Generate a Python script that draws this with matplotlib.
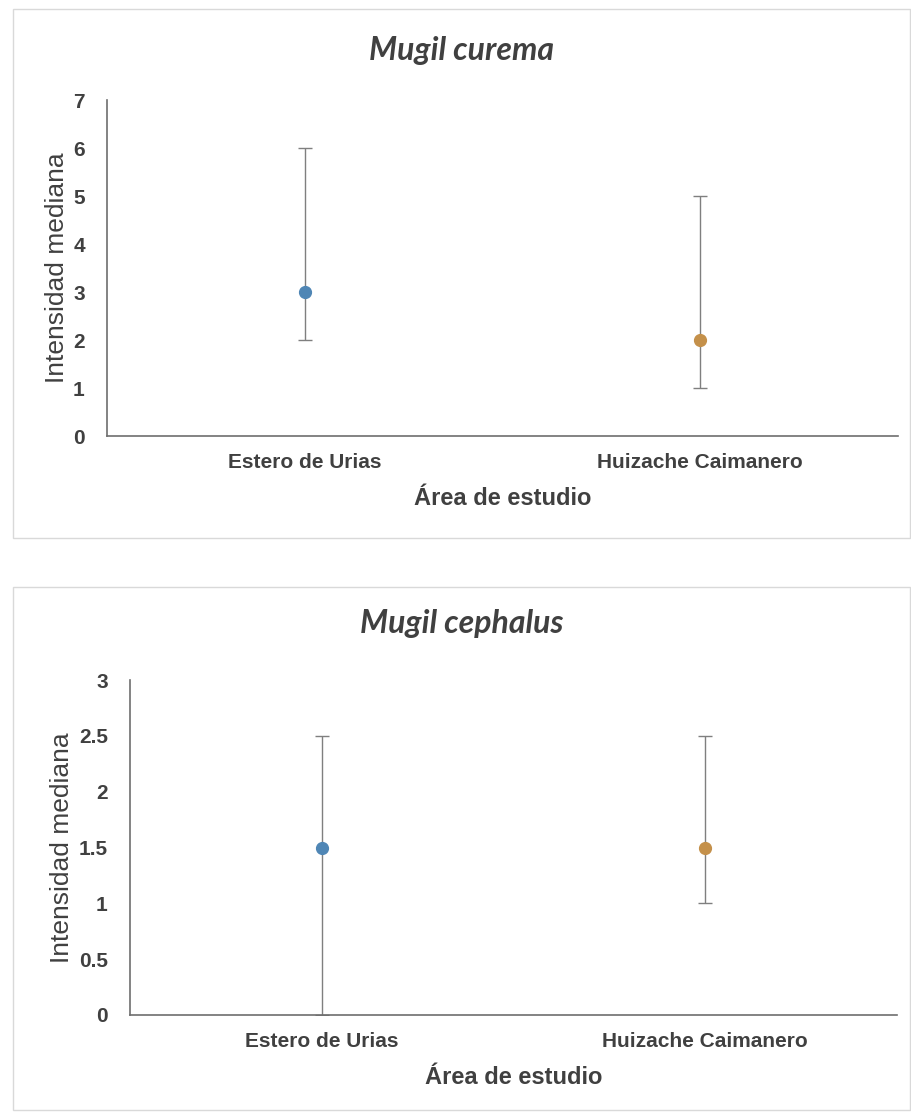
import matplotlib
matplotlib.use("Agg")
import matplotlib.pyplot as plt
from matplotlib.patches import Rectangle

# -------------------------------
# Data
# -------------------------------
areas = ["Estero de Urias", "Huizache Caimanero"]

curema_median = [3, 2]
curema_low = [2, 1]
curema_high = [6, 5]

cephalus_median = [1.5, 1.5]
cephalus_low = [0, 1]
cephalus_high = [2.5, 2.5]

point_colors = ["#4f86b5", "#c4904a"]

W, H = 912, 1115
fig = plt.figure(figsize=(W / 100, H / 100), dpi=100)

TXT = "#404040"
SANS = "Liberation Sans"


def px_box(x0, y0, x1, y1):
    # figure fraction from pixel corners (top-left origin)
    return [x0 / W, 1 - y1 / H, (x1 - x0) / W, (y1 - y0) / H]


def panel(frame, axpos, title, title_y, med, low, high, ymax, ystep, labels):
    # chart frame
    fx = px_box(*frame)
    fig.patches.append(Rectangle((fx[0], fx[1]), fx[2], fx[3],
                                 transform=fig.transFigure, fill=False,
                                 edgecolor="#d9d9d9", linewidth=1.0))
    fig.text((frame[0] + frame[2]) / 2 / W, 1 - title_y / H, title,
             ha="center", va="baseline", fontsize=23, fontweight="bold",
             fontstyle="italic", family="Lato", color=TXT)

    ax = fig.add_axes(px_box(*axpos))
    x = [0.5, 1.5]
    for i in range(len(med)):
        yerr = [[med[i] - low[i]], [high[i] - med[i]]]
        ax.errorbar([x[i]], [med[i]], yerr=yerr, fmt="none",
                    ecolor="#7f7f7f", elinewidth=1.0, capsize=4.7,
                    capthick=1.0, zorder=2)
        ax.plot([x[i]], [med[i]], "o", color=point_colors[i],
                markersize=8.5, zorder=3)

    ax.set_xlim(0, 2)
    ax.set_ylim(0, ymax)
    yt = [k * ystep for k in range(int(round(ymax / ystep)) + 1)]
    ax.set_yticks(yt)
    ax.set_yticklabels(labels, fontsize=15, fontweight="bold",
                       family=SANS, color=TXT)
    ax.set_xticks(x)
    ax.set_xticklabels(areas, fontsize=15, fontweight="bold",
                       family=SANS, color=TXT)
    ax.tick_params(axis="y", length=0, pad=16)
    ax.tick_params(axis="x", length=0, pad=12)

    for s in ["top", "right"]:
        ax.spines[s].set_visible(False)
    for s in ["left", "bottom"]:
        ax.spines[s].set_color("#6e6e6e")
        ax.spines[s].set_linewidth(1.2)

    ax.set_ylabel("Intensidad mediana", fontsize=19, family=SANS,
                  color=TXT, labelpad=3)
    ax.set_xlabel("Área de estudio", fontsize=17, fontweight="bold",
                  family=SANS, color=TXT, labelpad=11)
    return ax


panel((13, 9, 910, 538), (107, 100, 898, 436), "Mugil curema", 60,
      curema_median, curema_low, curema_high, 7, 1,
      ["0", "1", "2", "3", "4", "5", "6", "7"])

panel((13, 587, 910, 1110), (130, 680, 897, 1015), "Mugil cephalus", 633,
      cephalus_median, cephalus_low, cephalus_high, 3, 0.5,
      ["0", "0.5", "1", "1.5", "2", "2.5", "3"])

fig.savefig("out.png", dpi=100, facecolor="white")
